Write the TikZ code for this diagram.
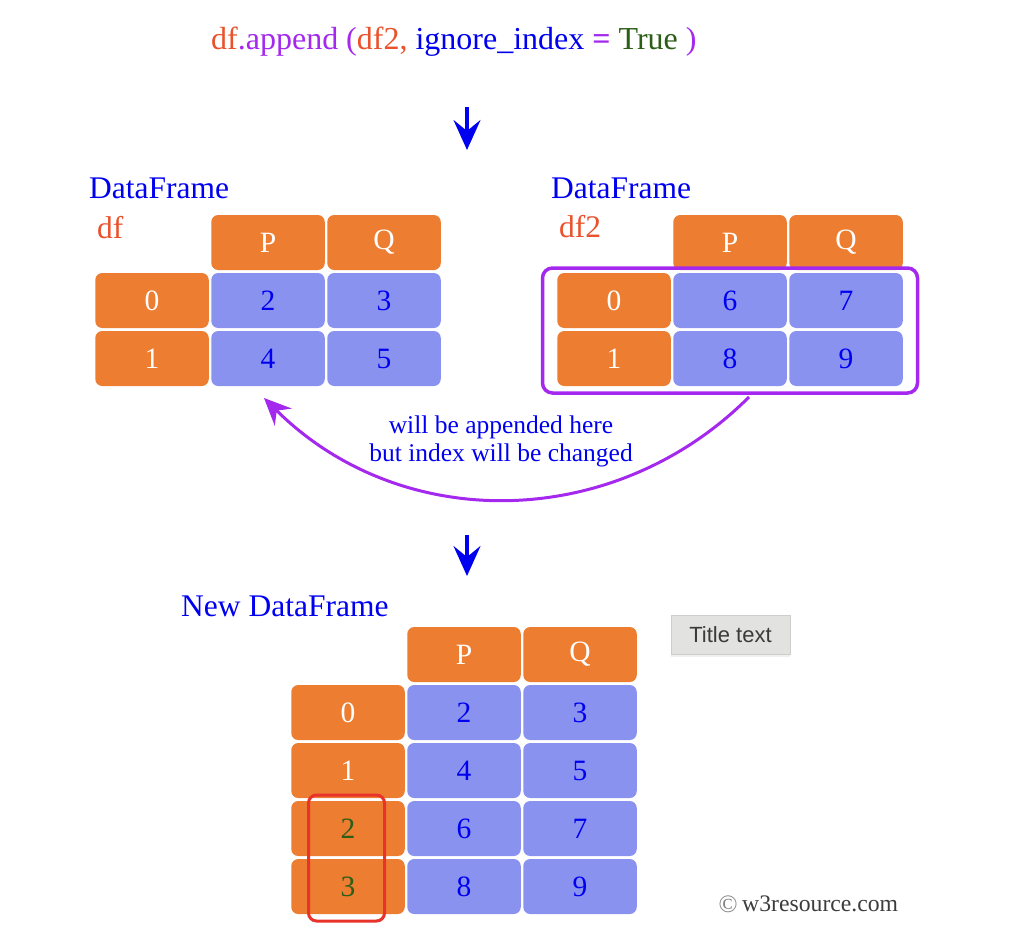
\documentclass[tikz,border=0pt]{standalone}
\usepackage{fontspec}
\setmainfont{Liberation Serif}
\newfontfamily\ttsans{Liberation Sans}
\usetikzlibrary{arrows.meta,shadows}
\definecolor{dforange}{HTML}{ED7D31}
\definecolor{dfblue}{HTML}{8A92F0}
\definecolor{dftext}{HTML}{0000F0}
\definecolor{dfpurple}{HTML}{A428EE}
\definecolor{dfred}{HTML}{E9522C}
\definecolor{dfgreen}{HTML}{2D5E17}
\definecolor{boxred}{HTML}{E8332A}
\definecolor{ttfill}{HTML}{E2E2E0}
\definecolor{ttborder}{HTML}{CDCDCB}
\definecolor{ttgray}{HTML}{3A3A3A}
\definecolor{wmgray}{HTML}{3C3C3C}
\tikzset{
  cellbox/.style={rectangle, rounded corners=7pt, minimum width=113.5pt, minimum height=55pt, inner sep=0pt, font=\fontsize{29.5}{34}\selectfont},
  hdr/.style={cellbox, fill=dforange, text=white},
  dat/.style={cellbox, fill=dfblue, text=dftext},
  heading/.style={anchor=base west, inner sep=0pt, font=\fontsize{31.5}{38}\selectfont},
  lbl/.style={anchor=base, inner sep=0pt, text=dftext, font=\fontsize{25.5}{30}\selectfont},
  downarrow/.style={draw=dftext, line width=3.5pt, -{Stealth[length=30pt,width=27pt,inset=11pt]}},
}
\begin{document}
\begin{tikzpicture}[x=1pt,y=-1pt]
\useasboundingbox (0,0) rectangle (1014,942);
% formula
\node[heading, font=\fontsize{32}{38}\selectfont] (formula) at (211,49) {{\color{dfred}df}{\color{dfpurple}.append (}{\color{dfred}df2,} {\color{dftext}ignore\_index} {\color{dfpurple}\textbf{=}} {\color{dfgreen}True} {\color{dfpurple})}};
\coordinate (a1s) at (467,107);
\coordinate (a1e) at (467,150);
\draw[downarrow] (a1s) -- (a1e);
% left table
\node[heading, text=dftext] (Ltitle) at (89,198) {DataFrame};
\node[heading, text=dfred] (Lname) at (97,238) {df};
\node[hdr] (L-hP) at (268,242.5) {P};
\node[hdr] (L-hQ) at (384,242.5) {Q};
\node[hdr] (L-0i) at (152,300.5) {0};
\node[dat] (L-0P) at (268,300.5) {2};
\node[dat] (L-0Q) at (384,300.5) {3};
\node[hdr] (L-1i) at (152,358.5) {1};
\node[dat] (L-1P) at (268,358.5) {4};
\node[dat] (L-1Q) at (384,358.5) {5};
% right table
\node[heading, text=dftext] (Rtitle) at (551,198) {DataFrame};
\node[heading, text=dfred] (Rname) at (559,237) {df2};
\node[hdr] (R-hP) at (730,242.5) {P};
\node[hdr] (R-hQ) at (846,242.5) {Q};
\node[hdr] (R-0i) at (614,300.5) {0};
\node[dat] (R-0P) at (730,300.5) {6};
\node[dat] (R-0Q) at (846,300.5) {7};
\node[hdr] (R-1i) at (614,358.5) {1};
\node[dat] (R-1P) at (730,358.5) {8};
\node[dat] (R-1Q) at (846,358.5) {9};
\node[draw=dfpurple, line width=3.5pt, rounded corners=10pt, minimum width=375pt, minimum height=125pt, inner sep=0pt] (sel) at (730,330.5) {};
% curved arrow
\coordinate (cs) at (749,397);
\coordinate (ce) at (264,398);
\draw[draw=dfpurple, line width=3pt, -{Stealth[length=27pt,width=24pt,inset=9pt]}] (cs) .. controls (615,531) and (402,535) .. (ce);
\node[lbl] (lab1) at (501,433) {will be appended here};
\node[lbl] (lab2) at (501,461) {but index will be changed};
\coordinate (a2s) at (467,535);
\coordinate (a2e) at (467,576);
\draw[downarrow] (a2s) -- (a2e);
% new table
\node[heading, text=dftext] (Ntitle) at (181,616) {New DataFrame};
\node[hdr] (N-hP) at (464,654.5) {P};
\node[hdr] (N-hQ) at (580,654.5) {Q};
\node[hdr] (N-0i) at (348,712.5) {0};
\node[dat] (N-0P) at (464,712.5) {2};
\node[dat] (N-0Q) at (580,712.5) {3};
\node[hdr] (N-1i) at (348,770.5) {1};
\node[dat] (N-1P) at (464,770.5) {4};
\node[dat] (N-1Q) at (580,770.5) {5};
\node[hdr, text=dfgreen] (N-2i) at (348,828.5) {2};
\node[dat] (N-2P) at (464,828.5) {6};
\node[dat] (N-2Q) at (580,828.5) {7};
\node[hdr, text=dfgreen] (N-3i) at (348,886.5) {3};
\node[dat] (N-3P) at (464,886.5) {8};
\node[dat] (N-3Q) at (580,886.5) {9};
\node[draw=boxred, line width=3pt, rounded corners=8pt, minimum width=76pt, minimum height=126pt, inner sep=0pt] (redbox) at (346.5,858) {};
% tooltip
\node[fill=ttfill, draw=ttborder, line width=0.8pt, minimum width=119pt, minimum height=39pt, inner sep=0pt, text=ttgray, font=\ttsans\fontsize{22}{26}\selectfont, drop shadow={opacity=0.12, shadow xshift=0pt, shadow yshift=-3pt}] (tip) at (730.5,634.5) {Title text};
% watermark
\node[anchor=base, inner sep=0pt, text=gray, font=\fontsize{25}{30}\selectfont] (copy) at (728,912) {©};
\node[anchor=base west, inner sep=0pt, text=wmgray, font=\fontsize{23.7}{28}\selectfont] (wm) at (742,911.5) {w3resource.com};
\end{tikzpicture}
\end{document}
